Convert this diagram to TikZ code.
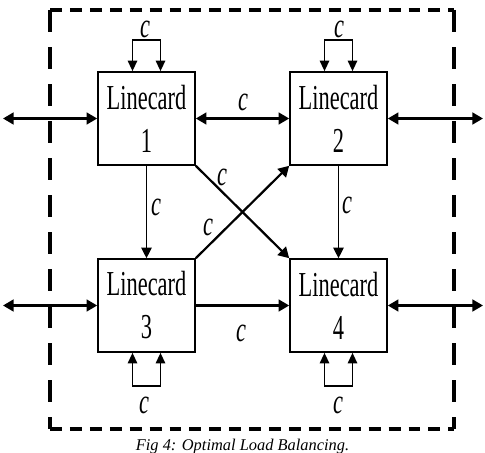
\documentclass[tikz,border=0pt]{standalone}
\usepackage{fontspec}
\setmainfont{Liberation Serif}
\newfontfamily\lcfont{Liberation Serif}[FakeStretch=0.64]
\usetikzlibrary{arrows.meta,positioning,calc}

\begin{document}
\begin{tikzpicture}[
  x=0.03cm,y=-0.03cm,
  every node/.style={font=\lcfont\fontsize{29.9}{36.7}\selectfont},
  card/.style={draw,line width=1.4pt,minimum width=2.91cm,minimum height=2.79cm,
               inner sep=0pt,align=center},
  lbl/.style={inner sep=0pt},
  link/.style={line width=1.9pt,-{Triangle[length=9pt,width=10pt]}},
  thinlink/.style={line width=1pt,-{Triangle[length=9pt,width=9pt]}},
  io/.style={line width=1.9pt,{Triangle[length=9pt,width=10pt]}-{Triangle[length=9pt,width=10pt]}},
  selfloop/.style={line width=1.4pt,{Triangle[length=9pt,width=8pt]}-{Triangle[length=9pt,width=8pt]}},
  hframe/.style={line width=3.2pt,dash pattern=on 10.2pt off 6.8pt},
  vframe/.style={line width=3pt,dash pattern=on 18.8pt off 12.8pt}
]
\useasboundingbox (0,0) rectangle (485,452);

\draw[hframe] (50,10) -- (454,10);
\draw[hframe] (50,429) -- (454,429);
\draw[vframe] (50,10) -- (50,429);
\draw[vframe] (454,10) -- (454,429);

\node[card] (L1) at (146.5,118.5) {Linecard\\1};
\node[card] (L2) at (338.5,118.5) {Linecard\\2};
\node[card] (L3) at (146.5,305.5) {Linecard\\3};
\node[card] (L4) at (338.5,305.5) {Linecard\\4};

\coordinate (w1) at (3,118.5);
\coordinate (w3) at (3,305.5);
\coordinate (e2) at (483,118.5);
\coordinate (e4) at (483,305.5);

\draw[io] (w1) -- (L1.west);
\draw[io] (w3) -- (L3.west);
\draw[io] (L2.east) -- (e2);
\draw[io] (L4.east) -- (e4);

\draw[io]       (L1.east) -- (L2.west);
\draw[link]     (L3.east) -- (L4.west);
\draw[thinlink] (L1.south) -- (L3.north);
\draw[thinlink] (L2.south) -- (L4.north);
\draw[link]     (L1.south east) -- (L4.north west);
\draw[link]     (L3.north east) -- (L2.south west);

\draw[selfloop] ([xshift=-0.42cm]L1.north) -- ++(0,-31) -| ([xshift=0.42cm]L1.north);
\draw[selfloop] ([xshift=-0.42cm]L2.north) -- ++(0,-31) -| ([xshift=0.42cm]L2.north);
\draw[selfloop] ([xshift=-0.42cm]L3.south) -- ++(0,33) -| ([xshift=0.42cm]L3.south);
\draw[selfloop] ([xshift=-0.42cm]L4.south) -- ++(0,33) -| ([xshift=0.42cm]L4.south);

\node[lbl] (c1)  at (145,29)  {\textit{c}};
\node[lbl] (c2)  at (339,29)  {\textit{c}};
\node[lbl] (c3)  at (144,405) {\textit{c}};
\node[lbl] (c4)  at (338,405) {\textit{c}};
\node[lbl] (c12) at (243,102) {\textit{c}};
\node[lbl] (c34) at (241,333) {\textit{c}};
\node[lbl] (c13) at (156,207) {\textit{c}};
\node[lbl] (c24) at (347,205) {\textit{c}};
\node[lbl] (c14) at (222,177) {\textit{c}};
\node[lbl] (c32) at (208,227) {\textit{c}};

\node[anchor=base,font=\fontsize{14}{17}\selectfont\itshape] (cap) at (242.5,450)
  {Fig 4: Optimal Load Balancing.};
\end{tikzpicture}
\end{document}
